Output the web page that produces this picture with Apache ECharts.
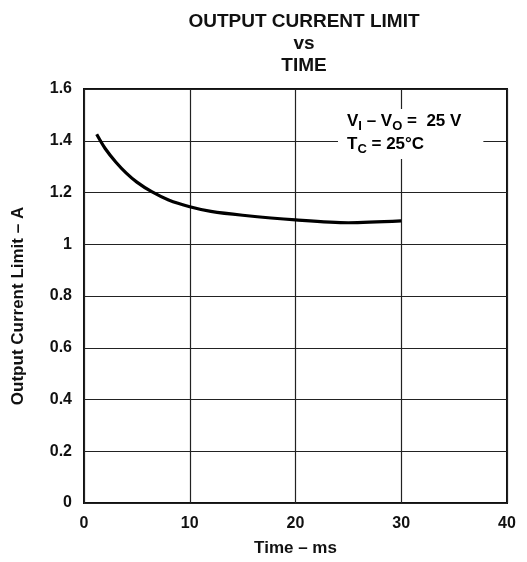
<!DOCTYPE html>
<html><head><meta charset="utf-8">
<script src="https://cdn.jsdelivr.net/npm/echarts@6/dist/echarts.min.js"></script>
<style>html,body{margin:0;padding:0;background:#fff}#c{width:527px;height:562px}</style>
</head><body><div id="c"></div>
<script>
var timeMs = [1.2, 2, 3, 4, 5, 6.4, 8, 10, 12, 15, 20, 25, 30];
var currentA = [1.425, 1.37, 1.318, 1.275, 1.24, 1.203, 1.171, 1.145, 1.127, 1.112, 1.094, 1.083, 1.09];
var xTicks = [0, 10, 20, 30, 40];
var yTicks = [0, 0.2, 0.4, 0.6, 0.8, 1, 1.2, 1.4, 1.6];
var titleLines = ['OUTPUT CURRENT LIMIT', 'vs', 'TIME'];
var xName = 'Time – ms';
var yName = 'Output Current Limit – A';

var chart = echarts.init(document.getElementById('c'));
var F = 'Liberation Sans, Arial, Helvetica, sans-serif';
chart.setOption({
  animation: false,
  backgroundColor: '#fff',
  title: {
    text: titleLines.join('\n'), left: 299, top: 6, textAlign: 'center',
    textStyle: {fontFamily: F, fontWeight: 'bold', fontSize: 19, lineHeight: 22, color: '#111'}
  },
  grid: {left: 84, right: 20, top: 89, bottom: 58, show: true, borderColor: '#111', borderWidth: 2},
  xAxis: {
    type: 'value', min: 0, max: 40, interval: 10,
    name: xName, nameLocation: 'middle', nameGap: 37,
    nameTextStyle: {fontFamily: F, fontWeight: 'bold', fontSize: 17, color: '#111'},
    axisLine: {show: false}, axisTick: {show: false},
    axisLabel: {fontFamily: F, fontWeight: 'bold', fontSize: 16, color: '#111', margin: 13,
      formatter: function (v) { return xTicks.indexOf(v) >= 0 ? String(v) : ''; }},
    splitLine: {lineStyle: {color: '#222', width: 1.2}}
  },
  yAxis: {
    type: 'value', min: 0, max: 1.6, interval: 0.2,
    name: yName, nameLocation: 'middle', nameGap: 57, nameRotate: 90,
    nameTextStyle: {fontFamily: F, fontWeight: 'bold', fontSize: 17, color: '#111', padding: [0, 20, 0, 0]},
    axisLine: {show: false}, axisTick: {show: false},
    axisLabel: {fontFamily: F, fontWeight: 'bold', fontSize: 16, color: '#111', margin: 12,
      formatter: function (v) { var r = Math.round(v * 10) / 10; return yTicks.indexOf(r) >= 0 ? String(r) : ''; }},
    splitLine: {lineStyle: {color: '#222', width: 1.2}}
  },
  graphic: [{
    type: 'text', left: 338, top: 109, z: 100,
    style: {
      text: '{v|V}{s|I}{v| – V}{s|O}{v| =  25 V}\n{v|T}{s|C}{v| = 25°C}',
      backgroundColor: '#fff', padding: [1, 22, 3, 9],
      rich: {
        v: {fontFamily: F, fontWeight: 'bold', fontSize: 17, lineHeight: 23, color: '#111', verticalAlign: 'middle'},
        s: {fontFamily: F, fontWeight: 'bold', fontSize: 13, lineHeight: 23, color: '#111', verticalAlign: 'bottom', padding: [8, 0, 0, 0]}
      }
    }
  }],
  series: [{
    type: 'line', smooth: 0.3, showSymbol: false,
    data: timeMs.map(function (t, i) { return [t, currentA[i]]; }),
    lineStyle: {color: '#000', width: 3.2}
  }]
});
</script></body></html>
